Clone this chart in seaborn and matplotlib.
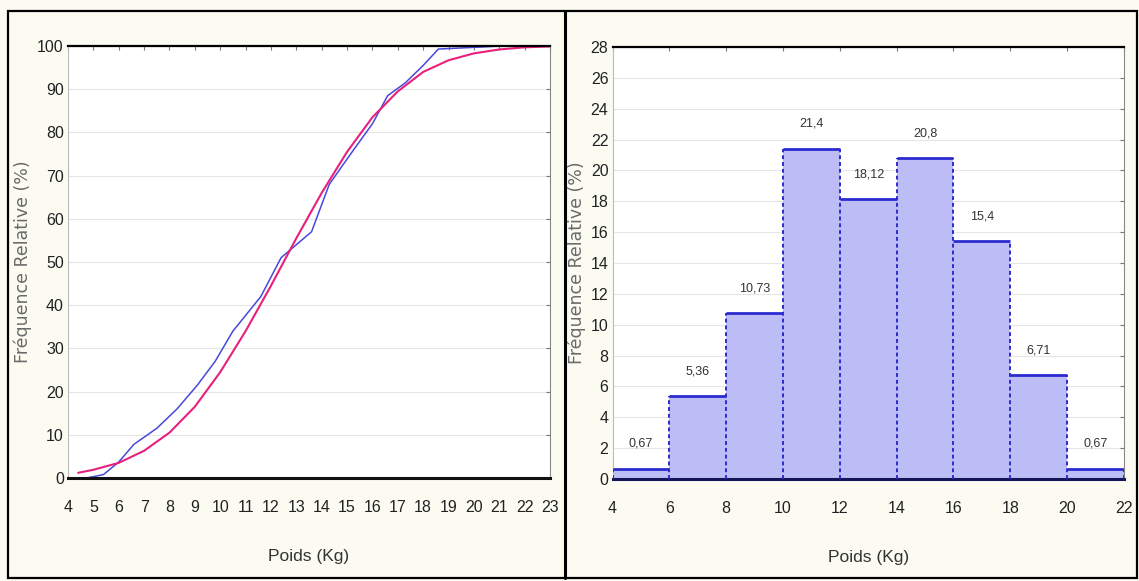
import matplotlib
matplotlib.use("Agg")
import matplotlib.pyplot as plt
import seaborn as sns
import numpy as np
import pandas as pd
from matplotlib.lines import Line2D

# Empirical cumulative frequency (blue)
emp_x = [4.7, 5.0, 5.4, 6.0, 6.6, 7.5, 8.3, 9.1, 9.8, 10.5, 11.6, 12.4, 12.9,
         13.6, 14.3, 15.2, 16.0, 16.6, 17.3, 18.0, 18.6, 20.4, 21.0, 23.0]
emp_y = [0.0, 0.3, 0.8, 3.7, 7.8, 11.5, 16.0, 21.5, 27.0, 34.0, 42.0, 51.0, 53.5,
         57.0, 68.0, 75.5, 82.0, 88.5, 91.5, 95.5, 99.3, 99.8, 100.0, 100.0]

# Fitted cumulative frequency (magenta)
fit_x = [4.4, 5, 6, 7, 8, 9, 10, 11, 12, 13, 14, 15, 16, 17, 18, 19, 20, 21, 22, 23]
fit_y = [1.2, 1.9, 3.5, 6.3, 10.5, 16.5, 24.5, 34.0, 44.5, 55.5, 66.0, 75.5,
         83.5, 89.5, 94.0, 96.7, 98.3, 99.2, 99.7, 99.9]

# Histogram of weights, 2 kg classes
bin_edges = [4, 6, 8, 10, 12, 14, 16, 18, 20, 22]
freq = [0.67, 5.36, 10.73, 21.4, 18.12, 20.8, 15.4, 6.71, 0.67]
freq_labels = ["0,67", "5,36", "10,73", "21,4", "18,12", "20,8", "15,4", "6,71", "0,67"]

left_xticks = list(range(4, 24))
left_yticks = list(range(0, 101, 10))
right_xticks = list(range(4, 23, 2))
right_yticks = list(range(0, 29, 2))

BG = "#fbfbf2"
BLUE = "#4848dc"
MAGENTA = "#e8207c"
BAR_FILL = "#bcbcf7"
BAR_EDGE = "#2b2bd0"

sns.set_style("white")
plt.rcParams["font.family"] = ["Liberation Sans", "DejaVu Sans"]

fig = plt.figure(figsize=(11.39, 5.81), dpi=100, facecolor=BG)

ax1 = fig.add_axes([0.0597, 0.1773, 0.4232, 0.7435])
ax2 = fig.add_axes([0.5378, 0.1756, 0.4490, 0.7435])

# ---- Left: cumulative curves ----
df_emp = pd.DataFrame({"x": emp_x, "y": emp_y})
df_fit = pd.DataFrame({"x": fit_x, "y": fit_y})
sns.lineplot(data=df_emp, x="x", y="y", ax=ax1, color=BLUE, lw=1.1, sort=False,
             estimator=None)
sns.lineplot(data=df_fit, x="x", y="y", ax=ax1, color=MAGENTA, lw=1.5, sort=False,
             estimator=None)
ax1.set_xlim(4, 23)
ax1.set_ylim(0, 100)
ax1.set_xticks(left_xticks)
ax1.set_yticks(left_yticks)

# ---- Right: histogram ----
centers = [(bin_edges[i] + bin_edges[i + 1]) / 2 for i in range(len(freq))]
sns.histplot(x=centers, weights=freq, bins=bin_edges, ax=ax2, color=BAR_FILL,
             alpha=1.0, edgecolor="none", linewidth=0, stat="count")
ax2.hlines(freq, bin_edges[:-1], bin_edges[1:], colors=BAR_EDGE, lw=2, zorder=3)
for i in range(len(freq)):
    side_h = max(freq[i - 1] if i > 0 else 0, freq[i])
    ax2.vlines(bin_edges[i], 0, side_h, colors=BAR_EDGE, lw=1.4,
               linestyles=(0, (2, 1.5)), zorder=3)
ax2.vlines(bin_edges[-1], 0, freq[-1], colors=BAR_EDGE, lw=1.4,
           linestyles=(0, (2, 1.5)), zorder=3)
for c, v, lab in zip(centers, freq, freq_labels):
    ax2.annotate(lab, (c, v), xytext=(0, 18), textcoords="offset points",
                 ha="center", va="center", fontsize=9, color="#333333")
ax2.set_xlim(4, 22)
ax2.set_ylim(0, 28)
ax2.set_xticks(right_xticks)
ax2.set_yticks(right_yticks)

for ax in (ax1, ax2):
    ax.set_facecolor("white")
    ax.grid(axis="y", color="#e6e6e6", lw=0.8)
    ax.set_axisbelow(True)
    ax.set_xlabel("Poids (Kg)", fontsize=12.5, color="#333333", labelpad=24)
    ax.set_ylabel("Fréquence Relative (%)", fontsize=12.5, color="#6a6a6a",
                  family=["DejaVu Sans"])
    ax.tick_params(axis="both", labelsize=11.5, labelcolor="#222222", length=3,
                   direction="out", color="#777777")
    ax.tick_params(axis="x", pad=16)
    ax.tick_params(axis="y", pad=3)
    ax.tick_params(top=True, right=True, which="major", direction="in",
                   length=3)
    ax.spines["top"].set_color("black")
    ax.spines["top"].set_linewidth(1.6)
    ax.spines["bottom"].set_linewidth(2.2)
    ax.spines["left"].set_color("#bbbbbb")
    ax.spines["left"].set_linewidth(0.8)
    ax.spines["right"].set_color("#888888")
    ax.spines["right"].set_linewidth(0.8)

ax1.spines["bottom"].set_color("#111111")
ax2.spines["bottom"].set_color("#14145a")
ax1.yaxis.set_label_coords(-0.074, 0.5)
ax2.yaxis.set_label_coords(-0.052, 0.5)

# Panel frames
fig.add_artist(plt.Rectangle((8 / 1139, 3 / 581), 1129 / 1139, 567 / 581,
                             transform=fig.transFigure, fill=False,
                             edgecolor="black", lw=1.6))
fig.add_artist(Line2D([565 / 1139, 565 / 1139], [3 / 581, 570 / 581],
                      transform=fig.transFigure, color="black", lw=2.2))

fig.savefig("out.png", dpi=100, facecolor=BG)
